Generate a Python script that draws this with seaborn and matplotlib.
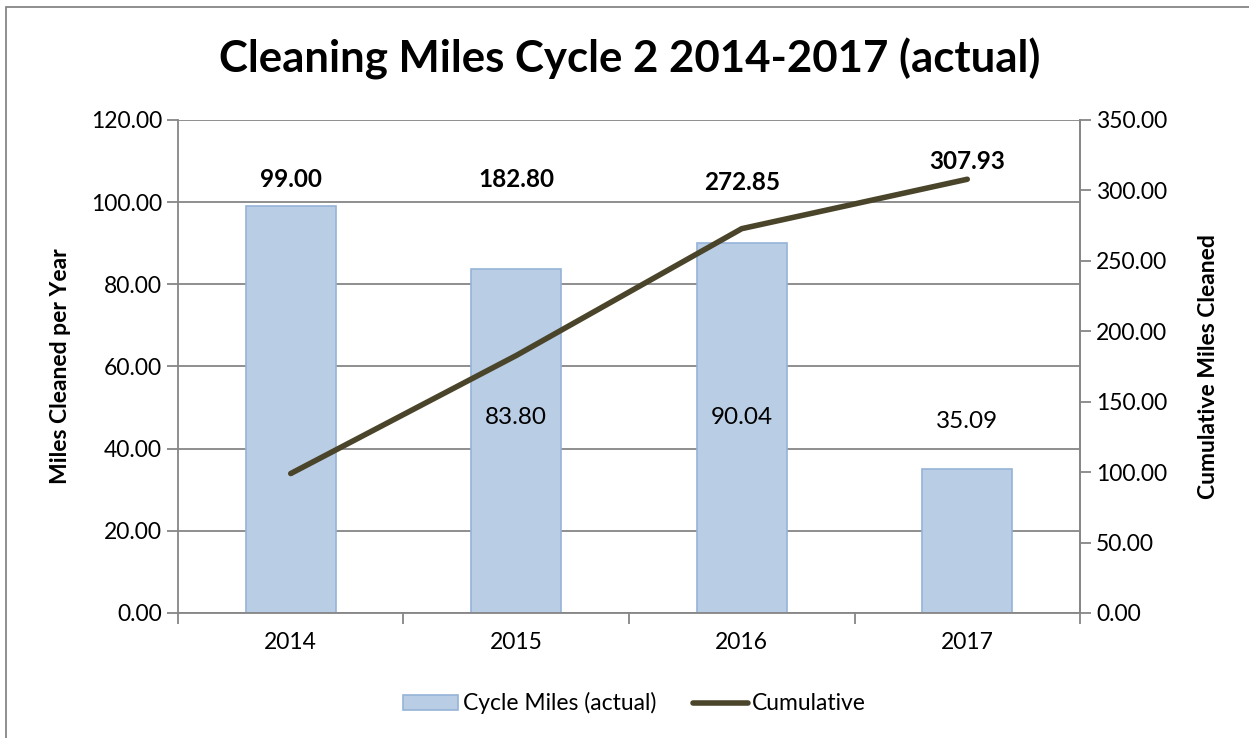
import matplotlib
matplotlib.use("Agg")
import matplotlib.pyplot as plt
import seaborn as sns
import pandas as pd
from matplotlib.patches import Rectangle
from matplotlib.lines import Line2D
from matplotlib.patches import Patch

# data
years = ["2014", "2015", "2016", "2017"]
cycle_miles = [99.00, 83.80, 90.04, 35.09]
cumulative = [99.00, 182.80, 272.85, 307.93]

# where the labels sit (left-axis units), hand-placed like in the original
bar_label_y = [None, 47.5, 47.5, 46.5]
cum_label_y = [105.4, 105.4, 104.7, 109.8]

sns.set_style("white")
plt.rcParams['font.family'] = ['Lato', 'DejaVu Sans']
plt.rcParams['text.color'] = 'black'
plt.rcParams['axes.labelcolor'] = 'black'
plt.rcParams['xtick.color'] = 'black'
plt.rcParams['ytick.color'] = 'black'

FS = 16.5

df = pd.DataFrame({"Year": years, "Miles": cycle_miles, "Cum": cumulative})

fig = plt.figure(figsize=(12.49, 7.38), dpi=100)
ax = fig.add_axes([0.1425, 0.1694, 0.7222, 0.668])

sns.barplot(data=df, x="Year", y="Miles", ax=ax, color="#B9CDE5",
            edgecolor="#95B3D7", linewidth=1.2, width=0.4, saturation=1)
ax.set_ylim(0, 120)
ax.set_xlim(-0.5, 3.5)
ax.set_yticks(range(0, 121, 20))
ax.set_yticklabels([f"{v:.2f}" for v in range(0, 121, 20)], fontsize=FS)
ax.yaxis.grid(True, color="#868686", linewidth=1.3)
ax.set_axisbelow(True)
ax.set_xlabel("")
ax.set_ylabel("Miles Cleaned per Year", fontsize=FS, fontweight="bold", labelpad=14)
ax.tick_params(axis="x", length=0, labelsize=FS, pad=14, colors="black")
ax.tick_params(axis="y", direction="out", length=8, color="#868686", width=1.3,
               left=True, labelcolor="black")
ax.set_xticks([-0.5, 0.5, 1.5, 2.5, 3.5], minor=True)
ax.tick_params(axis="x", which="minor", length=8, color="#868686", width=1.3, bottom=True)
for s in ["left", "bottom", "right"]:
    ax.spines[s].set_color("#868686")
    ax.spines[s].set_linewidth(1.3)
ax.spines["top"].set_visible(False)

ax2 = ax.twinx()
sns.lineplot(data=df, x="Year", y="Cum", ax=ax2, color="#4A452A", linewidth=4,
             solid_capstyle="round")
ax2.set_ylim(0, 350)
ax2.set_yticks(range(0, 351, 50))
ax2.set_yticklabels([f"{v:.2f}" for v in range(0, 351, 50)], fontsize=FS)
ax2.set_ylabel("Cumulative Miles Cleaned", fontsize=FS, fontweight="bold", labelpad=22)
ax2.tick_params(axis="y", direction="out", length=8, color="#868686", width=1.3,
                right=True, labelcolor="black")
for s in ["left", "bottom", "right", "top"]:
    ax2.spines[s].set_visible(False)
ax2.spines["right"].set_visible(True)
ax2.spines["right"].set_color("#868686")
ax2.spines["right"].set_linewidth(1.3)

# labels
for i, y in enumerate(bar_label_y):
    if y is not None:
        ax.text(i, y, f"{cycle_miles[i]:.2f}", ha="center", va="center", fontsize=17.5)
for i, y in enumerate(cum_label_y):
    ax.text(i, y, f"{cumulative[i]:.2f}", ha="center", va="center", fontsize=17.5,
            fontweight="bold")

fig.text(0.504, 0.92, "Cleaning Miles Cycle 2 2014-2017 (actual)", ha="center",
         va="center", fontsize=31.5, fontweight="bold")

handles = [Patch(facecolor="#B9CDE5", edgecolor="#95B3D7", linewidth=1.2),
           Line2D([0], [0], color="#4A452A", linewidth=4, solid_capstyle="round")]
fig.legend(handles, ["Cycle Miles (actual)", "Cumulative"], loc="center",
           bbox_to_anchor=(0.508, 0.047), ncol=2, frameon=False, fontsize=FS,
           handlelength=2.4, handleheight=0.6, handletextpad=0.2, columnspacing=1.6)

fig.patches.append(Rectangle((0.005, -0.01), 1.1, 1.0, transform=fig.transFigure,
                             fill=False, edgecolor="#868686", linewidth=1.3))

fig.savefig("out.png", dpi=100)
